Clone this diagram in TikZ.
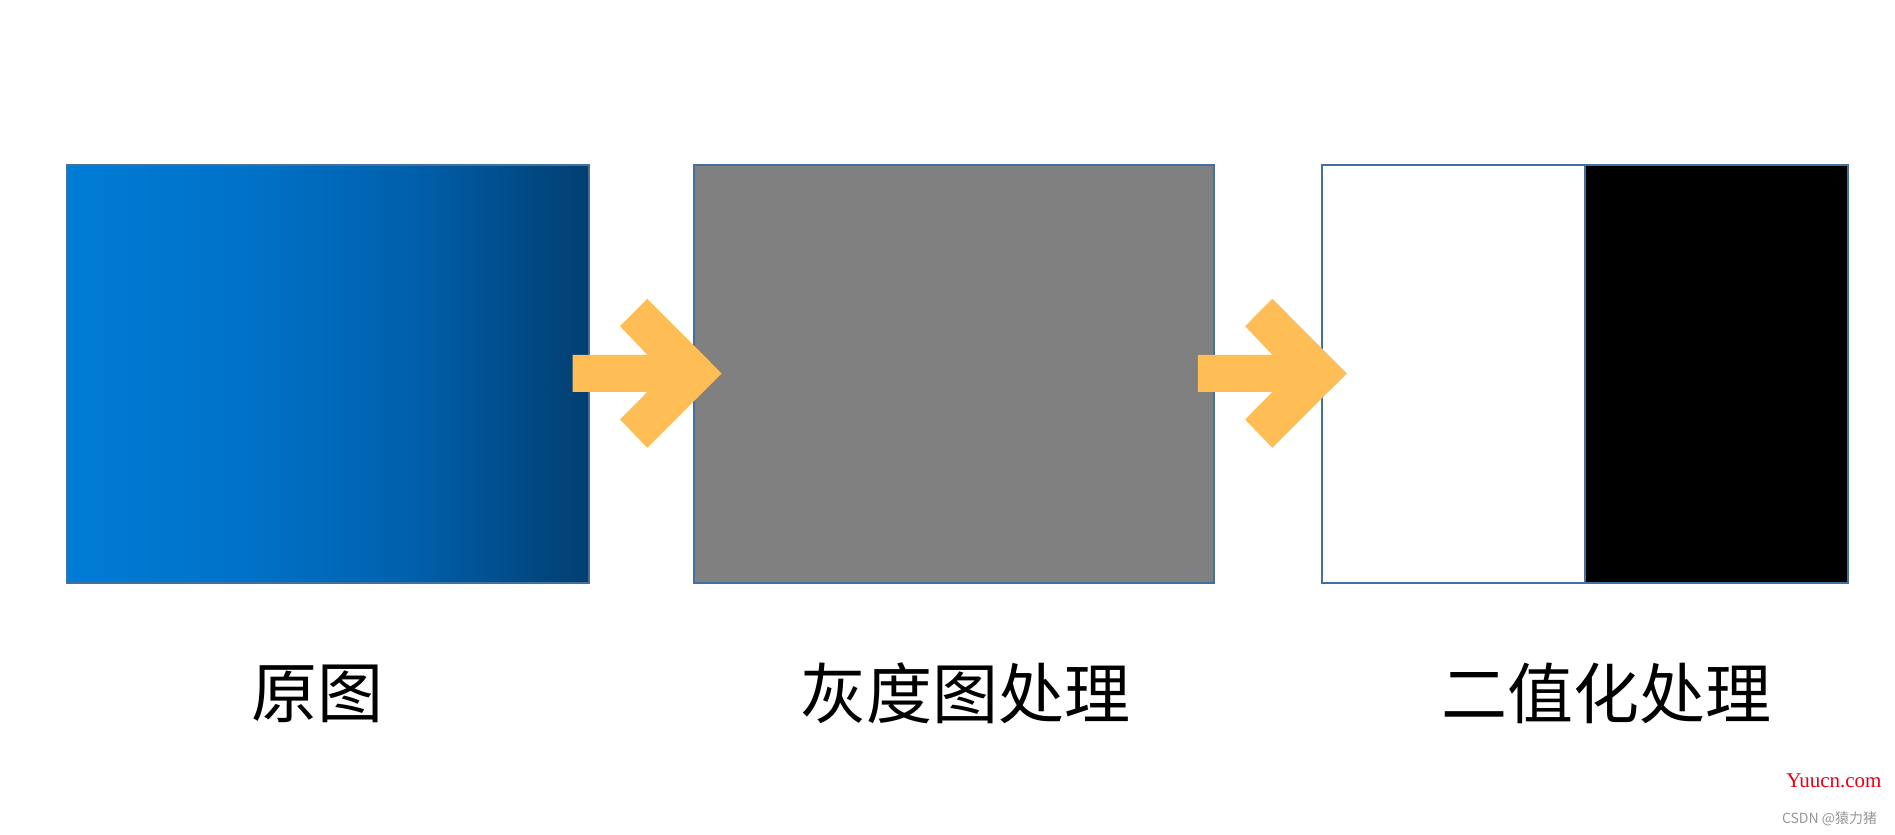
\documentclass[tikz,border=0pt]{standalone}
\usepackage{fontspec}
\newfontfamily\cjk{Noto Sans CJK SC}
\newfontfamily\wmserif{Liberation Serif}
\definecolor{edgeblue}{RGB}{65,113,156}
\definecolor{arrowgold}{RGB}{255,190,85}
\definecolor{midgray}{RGB}{128,128,128}
\definecolor{wmred}{RGB}{230,0,18}
\definecolor{wmgray}{RGB}{150,150,150}
\definecolor{bA}{RGB}{0,124,214}
\definecolor{bB}{RGB}{0,114,200}
\definecolor{bC}{RGB}{0,96,172}
\definecolor{bD}{RGB}{2,62,112}
\pgfdeclarehorizontalshading{blueshade}{100bp}{color(0bp)=(bA); color(25bp)=(bA); color(42bp)=(bB); color(58bp)=(bC); color(75bp)=(bD); color(100bp)=(bD)}
\tikzset{
  imgbox/.style={draw=edgeblue, line width=2pt, inner sep=0pt, outer sep=0pt, minimum height=418pt},
  caption/.style={font=\cjk\fontsize{66}{70}\selectfont, inner sep=0pt, anchor=center},
  blockarrow/.style={fill=arrowgold, draw=none}
}
\newcommand{\chevronarrow}[1]{%
  \fill[blockarrow] (#1) ++(-149,-18.7) -- ++(74.6,0) -- ++(-27.3,-28.6) -- ++(27.3,-27.4)
    -- ++(74.4,74.7) -- ++(-74.4,74.3) -- ++(-27.3,-28.3) -- ++(27.3,-27.6) -- ++(-74.6,0) -- cycle;}
\begin{document}
\begin{tikzpicture}[x=1pt,y=-1pt]
\useasboundingbox (0,0) rectangle (1895,835);
% boxes
\node[imgbox, minimum width=522pt, shading=blueshade] (orig) at (327.5,373.5) {};
\node[imgbox, minimum width=520pt, fill=midgray] (gray) at (954,373.5) {};
\node[imgbox, minimum width=263.3pt, fill=white] (binw) at (1453.4,373.5) {};
\node[imgbox, minimum width=263pt, fill=black] (binb) at (1716.5,373.5) {};
% arrows
\coordinate (tip1) at ([xshift=27.7pt]gray.west);
\coordinate (tip2) at ([xshift=25pt]binw.west);
\chevronarrow{tip1}
\chevronarrow{tip2}
% captions
\node[caption] (c1) at (317.5,693.5) {原图};
\node[caption] (c2) at (965,693.5) {灰度图处理};
\node[caption] (c3) at (1606,693.5) {二值化处理};
% watermarks
\node[font=\wmserif\fontsize{21}{24}\selectfont, text=wmred, inner sep=0pt] (wm1) at (1834,781) {Yuucn.com};
\node[font=\cjk\fontsize{14}{16}\selectfont, text=wmgray, inner sep=0pt] (wm2) at (1829.5,818.5) {CSDN @猿力猪};
\end{tikzpicture}
\end{document}
